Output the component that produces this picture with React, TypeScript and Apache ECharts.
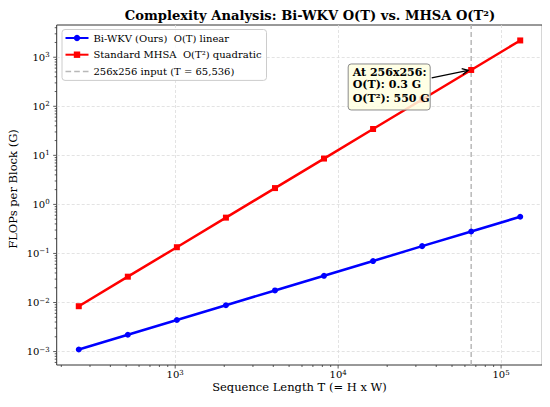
import React, { useEffect, useRef } from "react";
import * as echarts from "echarts";

const seqLen = [256, 512, 1024, 2048, 4096, 8192, 16384, 32768, 65536, 131072];
const biWkvFlops = [0.0011, 0.0022, 0.0044, 0.0088, 0.0176, 0.035, 0.07, 0.141, 0.28, 0.56];
const mhsaFlops = [0.0084, 0.0336, 0.134, 0.537, 2.15, 8.6, 34.4, 137.4, 550, 2199];
const markT = 65536;
const markFlops = 550;

const seriesNames = [
  "Bi-WKV (Ours)  O(T) linear",
  "Standard MHSA  O(T²) quadratic",
  "256x256 input (T = 65,536)",
];
const titleText = "Complexity Analysis: Bi-WKV O(T) vs. MHSA O(T²)";
const xName = "Sequence Length T (= H x W)";
const yName = "FLOPs per Block (G)";
const annotationLines = ["At 256x256:", "O(T): 0.3 G", "O(T²): 550 G"];

const xRange = [187.4, 179060];
const yRange = [0.000532, 4541];

const xMajorTicks = [1000, 10000, 100000];
const xMinorTicks = [
  200, 300, 400, 500, 600, 700, 800, 900,
  2000, 3000, 4000, 5000, 6000, 7000, 8000, 9000,
  20000, 30000, 40000, 50000, 60000, 70000, 80000, 90000,
];
const yMajorTicks = [0.001, 0.01, 0.1, 1, 10, 100, 1000];
const yMinorTicks = [
  0.0006, 0.0007, 0.0008, 0.0009,
  0.002, 0.003, 0.004, 0.005, 0.006, 0.007, 0.008, 0.009,
  0.02, 0.03, 0.04, 0.05, 0.06, 0.07, 0.08, 0.09,
  0.2, 0.3, 0.4, 0.5, 0.6, 0.7, 0.8, 0.9,
  2, 3, 4, 5, 6, 7, 8, 9,
  20, 30, 40, 50, 60, 70, 80, 90,
  200, 300, 400, 500, 600, 700, 800, 900,
  2000, 3000, 4000,
];

const FONT = "DejaVu Serif";
const DASH_ICON = "path://M0,0H5.5V1.5H0Z M8.5,0H14V1.5H8.5Z M17,0H22.5V1.5H17Z";

function powLabel(v: number): string {
  const e = Math.log10(v);
  const r = Math.round(e);
  if (Math.abs(e - r) > 1e-6) return "";
  const exp = r < 0 ? "\u2212" + Math.abs(r) : String(r);
  return `{b|10}{s|${exp}}`;
}

const labelRich = {
  b: { fontSize: 10, fontFamily: FONT, color: "#000", lineHeight: 11 },
  s: { fontSize: 7, fontFamily: FONT, color: "#000", lineHeight: 6, verticalAlign: "top" },
};

function tickSeries(values: number[], axis: "x" | "y", len: number) {
  return {
    type: "custom",
    silent: true,
    clip: false,
    z: 6,
    data: values.map((v) => (axis === "x" ? [v, yRange[0]] : [xRange[0], v])),
    renderItem: (_params: any, api: any) => {
      const p = api.coord([api.value(0), api.value(1)]);
      const shape =
        axis === "x"
          ? { x1: p[0], y1: p[1], x2: p[0], y2: p[1] + len }
          : { x1: p[0], y1: p[1], x2: p[0] - len, y2: p[1] };
      return { type: "line", shape, style: { stroke: "#333", lineWidth: 0.8 } };
    },
  };
}

export default function App() {
  const ref = useRef<HTMLDivElement>(null);

  useEffect(() => {
    if (!ref.current) return;
    const chart = echarts.init(ref.current, null, { renderer: "svg" });

    const option: any = {
      animation: false,
      backgroundColor: "#fff",
      textStyle: { fontFamily: FONT },
      title: {
        text: titleText,
        left: 305,
        textAlign: "center",
        top: 4,
        textStyle: { fontSize: 13.1, fontWeight: "bold", color: "#000", fontFamily: FONT },
      },
      grid: {
        left: 56.7,
        right: 7.7,
        top: 25,
        bottom: 42,
        show: true,
        borderColor: "#333",
        borderWidth: 1,
        backgroundColor: "transparent",
        containLabel: false,
        outerBoundsMode: "none",
      },
      legend: {
        orient: "vertical",
        left: 62,
        top: 29.5,
        data: [
          { name: seriesNames[0] },
          { name: seriesNames[1] },
          { name: seriesNames[2], icon: DASH_ICON },
        ],
        itemWidth: 23,
        itemHeight: 8,
        itemGap: 4.7,
        padding: [2.5, 5, 3, 2.5],
        backgroundColor: "rgba(255,255,255,0.8)",
        borderColor: "#ccc",
        borderWidth: 1,
        borderRadius: 3,
        selectedMode: false,
        textStyle: { fontSize: 10, color: "#000", fontFamily: FONT, lineHeight: 12 },
      },
      xAxis: {
        type: "log",
        logBase: 10,
        min: xRange[0],
        max: xRange[1],
        name: xName,
        nameLocation: "middle",
        nameGap: 15.5,
        nameMoveOverlap: false,
        nameTextStyle: { fontSize: 11.5, color: "#000", fontFamily: FONT },
        axisLine: { show: false },
        axisTick: { show: false },
        minorTick: { show: false },
        axisLabel: { formatter: powLabel, rich: labelRich, margin: 4, color: "#000" },
        splitLine: {
          show: true,
          showMinLine: false,
          showMaxLine: false,
          lineStyle: { color: "#dcdcdc", type: [3, 2], width: 0.8 },
        },
      },
      yAxis: {
        type: "log",
        logBase: 10,
        min: yRange[0],
        max: yRange[1],
        name: yName,
        nameLocation: "middle",
        nameGap: 38,
        nameMoveOverlap: false,
        nameTextStyle: { fontSize: 11.5, color: "#000", fontFamily: FONT, padding: [0, 0, 0, 12] },
        axisLine: { show: false },
        axisTick: { show: false },
        minorTick: { show: false },
        axisLabel: { formatter: powLabel, rich: labelRich, margin: 7, color: "#000" },
        splitLine: {
          show: true,
          showMinLine: false,
          showMaxLine: false,
          lineStyle: { color: "#dcdcdc", type: [3, 2], width: 0.8 },
        },
      },
      series: [
        {
          name: seriesNames[0],
          type: "line",
          data: seqLen.map((t, i) => [t, biWkvFlops[i]]),
          symbol: "circle",
          symbolSize: 6,
          lineStyle: { color: "#0000ff", width: 2.5 },
          itemStyle: { color: "#0000ff" },
          emphasis: { disabled: true },
          z: 4,
        },
        {
          name: seriesNames[1],
          type: "line",
          data: seqLen.map((t, i) => [t, mhsaFlops[i]]),
          symbol: "rect",
          symbolSize: 6,
          lineStyle: { color: "#ff0000", width: 2.5 },
          itemStyle: { color: "#ff0000" },
          emphasis: { disabled: true },
          z: 4,
        },
        {
          name: seriesNames[2],
          type: "line",
          data: [
            [markT, yRange[0]],
            [markT, yRange[1]],
          ],
          symbol: "none",
          lineStyle: { color: "#b8b8b8", width: 1.5, type: [5, 3] },
          itemStyle: { color: "#b8b8b8" },
          emphasis: { disabled: true },
          z: 3,
        },
        tickSeries(xMajorTicks, "x", 3.5),
        tickSeries(xMinorTicks, "x", 2),
        tickSeries(yMajorTicks, "y", 3.5),
        tickSeries(yMinorTicks, "y", 2),
        {
          type: "custom",
          silent: true,
          clip: false,
          z: 10,
          data: [[markT, markFlops]],
          renderItem: (_params: any, api: any) => {
            const p = api.coord([api.value(0), api.value(1)]);
            const bx = p[0] - 123;
            const by = p[1] - 6;
            const bw = 82;
            const bh = 46;
            const sx = bx + bw + 1.5;
            const sy = by + 13.8;
            const ex = p[0] - 3;
            const ey = p[1] + 0.3;
            const dx = ex - sx;
            const dy = ey - sy;
            const L = Math.sqrt(dx * dx + dy * dy);
            const ux = dx / L;
            const uy = dy / L;
            const hl = 6;
            const hw = 3;
            const h1 = [ex - ux * hl - uy * hw, ey - uy * hl + ux * hw];
            const h2 = [ex - ux * hl + uy * hw, ey - uy * hl - ux * hw];
            const lineYs = [8.5, 21, 34.5];
            return {
              type: "group",
              children: [
                {
                  type: "line",
                  shape: { x1: sx, y1: sy, x2: ex, y2: ey },
                  style: { stroke: "#000", lineWidth: 1.3 },
                },
                {
                  type: "polyline",
                  shape: { points: [h1, [ex, ey], h2] },
                  style: { stroke: "#000", lineWidth: 1.3, fill: null },
                },
                {
                  type: "rect",
                  shape: { x: bx, y: by, width: bw, height: bh, r: 3 },
                  style: { fill: "rgba(255,255,224,0.85)", stroke: "#8a8a8a", lineWidth: 1 },
                },
                ...annotationLines.map((t, i) => ({
                  type: "text",
                  style: {
                    text: t,
                    x: bx + 4.5,
                    y: by + lineYs[i],
                    verticalAlign: "middle",
                    align: "left",
                    fontSize: 11,
                    fontWeight: "bold",
                    fontFamily: FONT,
                    fill: "#000",
                  },
                })),
              ],
            };
          },
        },
      ],
    };

    chart.setOption(option);
    return () => chart.dispose();
  }, []);

  return <div ref={ref} style={{ width: 550, height: 407, margin: -8 }} />;
}
